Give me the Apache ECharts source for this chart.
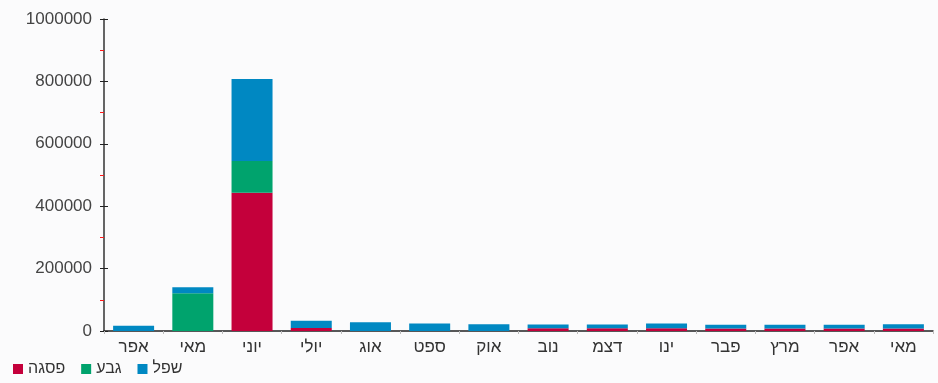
<!DOCTYPE html>
<html>
<head>
<meta charset="utf-8">
<script src="https://cdn.jsdelivr.net/npm/echarts@6/dist/echarts.min.js"></script>
<style>
    html, body { margin: 0; padding: 0; background: #fbfbfc; }
    #chart { width: 938px; height: 383px; }
</style>
</head>
<body>
<div id="chart"></div>
<script>
    /*数据源*/
    const months = ['אפר', 'מאי', 'יוני', 'יולי', 'אוג', 'ספט', 'אוק', 'נוב', 'דצמ', 'ינו', 'פבר', 'מרץ', 'אפר', 'מאי'];
    const peak = [0, 0, 443000, 10000, 0, 0, 0, 9000, 9000, 9000, 8000, 8000, 8000, 8000];
    const shoulder = [0, 121000, 102000, 0, 0, 0, 0, 0, 0, 0, 0, 0, 0, 0];
    const low = [17000, 19000, 263000, 23000, 28000, 24000, 22000, 12000, 12000, 15000, 12000, 12000, 12000, 14000];
    const seriesNames = ['פסגה', 'גבע', 'שפל'];
    const seriesColors = ['#c4003b', '#00a36d', '#0088c2'];

    const chart = echarts.init(document.getElementById('chart'));

    const font = "'Liberation Sans', 'DejaVu Sans', sans-serif";

    const option = {
        backgroundColor: '#fbfbfc',
        textStyle: { fontFamily: font },
        grid: { left: 104, right: 5, top: 19, bottom: 52 },
        legend: {
            left: 8,
            bottom: 1,
            itemWidth: 10,
            itemHeight: 10,
            itemGap: 16,
            icon: 'rect',
            textStyle: { fontSize: 16, color: '#333', fontFamily: font },
            data: seriesNames
        },
        xAxis: {
            type: 'category',
            data: months,
            axisLine: { lineStyle: { color: '#222', width: 1.5 } },
            axisTick: { show: true, length: 3, lineStyle: { color: '#bbb' } },
            axisLabel: { fontSize: 17, color: '#333', margin: 8, fontFamily: font }
        },
        yAxis: [
            {
                type: 'value',
                min: 0,
                max: 1000000,
                interval: 200000,
                axisLine: { show: true, lineStyle: { color: '#333', width: 1.5 } },
                axisTick: { show: true, length: 4, lineStyle: { color: '#222' } },
                minorTick: { show: true, splitNumber: 2, length: 4, lineStyle: { color: '#ff1a1a' } },
                splitLine: { show: false },
                axisLabel: {
                    fontSize: 17,
                    color: '#444',
                    margin: 12,
                    fontFamily: font,
                    formatter: v => String(v)
                }
            },
            {
                type: 'value',
                position: 'left',
                min: 0,
                max: 1000000,
                interval: 200000,
                axisLine: { show: false },
                axisTick: { show: true, inside: true, length: 4, lineStyle: { color: '#222' } },
                splitLine: { show: false },
                axisLabel: { show: false }
            }
        ],
        series: [peak, shoulder, low].map((values, i) => ({
            name: seriesNames[i],
            type: 'bar',
            stack: 'total',
            barWidth: 41,
            yAxisIndex: 0,
            itemStyle: { color: seriesColors[i] },
            data: values
        }))
    };

    /*显示图表*/
    chart.setOption(option);
</script>
</body>
</html>
